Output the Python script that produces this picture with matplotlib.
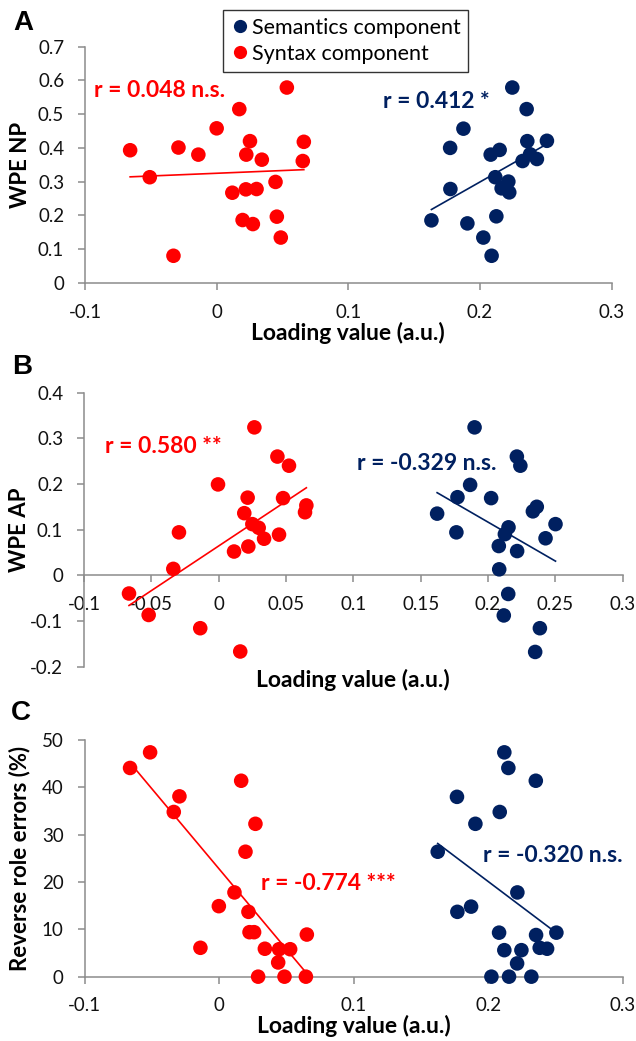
import numpy as np
import matplotlib
matplotlib.use("Agg")
import matplotlib.pyplot as plt
from matplotlib.lines import Line2D

# ---------------- data ----------------
# Panel A: WPE NP
a_syn_x = [-0.0657, -0.0508, -0.0328, -0.0290, -0.0139, 0.0000, 0.0119, 0.0172, 0.0197, 0.0222, 0.0225,
           0.0253, 0.0275, 0.0303, 0.0343, 0.0447, 0.0457, 0.0487, 0.0533, 0.0654, 0.0662]
a_syn_y = [0.393, 0.313, 0.080, 0.401, 0.380, 0.458, 0.267, 0.515, 0.186, 0.277, 0.380,
           0.420, 0.174, 0.278, 0.365, 0.299, 0.196, 0.134, 0.579, 0.361, 0.418]
a_sem_x = [0.2245, 0.2354, 0.1874, 0.1773, 0.2359, 0.2508, 0.2081, 0.2149, 0.2323, 0.2432, 0.2380,
           0.2116, 0.2215, 0.2164, 0.2222, 0.1775, 0.1631, 0.1904, 0.2124, 0.2025, 0.2088]
a_sem_y = [0.579, 0.515, 0.457, 0.400, 0.420, 0.421, 0.380, 0.394, 0.361, 0.367, 0.381,
           0.313, 0.300, 0.280, 0.268, 0.278, 0.185, 0.176, 0.197, 0.134, 0.080]

# Panel B: WPE AP
b_syn_x = [0.0265, 0.0436, 0.0522, -0.0005, 0.0215, 0.0478, 0.0651, 0.0641, 0.0190, 0.0250, 0.0297,
           -0.0295, 0.0448, 0.0337, 0.0220, 0.0114, -0.0337, -0.0666, -0.0520, -0.0137, 0.0160]
b_syn_y = [0.324, 0.260, 0.240, 0.199, 0.170, 0.169, 0.153, 0.138, 0.136, 0.112, 0.104,
           0.094, 0.089, 0.080, 0.063, 0.052, 0.014, -0.040, -0.087, -0.116, -0.167]
b_sem_x = [0.1900, 0.2214, 0.2240, 0.1867, 0.1773, 0.2023, 0.2362, 0.2333, 0.1622, 0.2501, 0.2152,
           0.2125, 0.1765, 0.2427, 0.2080, 0.2216, 0.2083, 0.2150, 0.2117, 0.2385, 0.2350]
b_sem_y = [0.324, 0.260, 0.240, 0.198, 0.171, 0.169, 0.150, 0.140, 0.135, 0.112, 0.105,
           0.090, 0.094, 0.081, 0.064, 0.053, 0.013, -0.041, -0.088, -0.116, -0.168]

# Panel C: reverse role errors (%)
c_syn_x = [-0.0513, -0.0662, 0.0164, -0.0295, -0.0337, 0.0270, 0.0196, 0.0114, -0.0002, 0.0218, 0.0226,
           0.0260, 0.0652, -0.0139, 0.0340, 0.0446, 0.0528, 0.0439, 0.0290, 0.0486, 0.0645]
c_syn_y = [47.4, 44.1, 41.4, 38.1, 34.8, 32.3, 26.4, 17.8, 14.9, 13.7, 9.4,
           9.4, 8.9, 6.1, 5.9, 5.8, 5.8, 3.0, 0.0, 0.0, 0.0]
c_sem_x = [0.2120, 0.2150, 0.2354, 0.1768, 0.2086, 0.1905, 0.1625, 0.2217, 0.1873, 0.1771, 0.2081,
           0.2356, 0.2507, 0.2120, 0.2247, 0.2383, 0.2438, 0.2215, 0.2024, 0.2155, 0.2321]
c_sem_y = [47.4, 44.1, 41.4, 38.0, 34.8, 32.3, 26.4, 17.8, 14.8, 13.7, 9.3,
           8.8, 9.3, 5.6, 5.6, 6.1, 5.9, 2.8, 0.0, 0.0, 0.0]

r_labels_syn = ["r = 0.048 n.s.", "r = 0.580 **", "r = -0.774 ***"]
r_labels_sem = ["r = 0.412 *", "r = -0.329 n.s.", "r = -0.320 n.s."]
panel_letters = ["A", "B", "C"]
y_titles = ["WPE NP", "WPE AP", "Reverse role errors (%)"]
x_title = "Loading value (a.u.)"
legend_names = ["Semantics component", "Syntax component"]

a_xticks = [-0.1, 0, 0.1, 0.2, 0.3]
a_xticklabels = ["-0.1", "0", "0.1", "0.2", "0.3"]
a_yticks = [0, 0.1, 0.2, 0.3, 0.4, 0.5, 0.6, 0.7]
a_yticklabels = ["0", "0.1", "0.2", "0.3", "0.4", "0.5", "0.6", "0.7"]
b_xticks = [-0.1, -0.05, 0, 0.05, 0.1, 0.15, 0.2, 0.25, 0.3]
b_xticklabels = ["-0.1", "-0.05", "0", "0.05", "0.1", "0.15", "0.2", "0.25", "0.3"]
b_yticks = [-0.2, -0.1, 0, 0.1, 0.2, 0.3, 0.4]
b_yticklabels = ["-0.2", "-0.1", "0", "0.1", "0.2", "0.3", "0.4"]
c_xticks = [-0.1, 0, 0.1, 0.2, 0.3]
c_xticklabels = ["-0.1", "0", "0.1", "0.2", "0.3"]
c_yticks = [0, 10, 20, 30, 40, 50]
c_yticklabels = ["0", "10", "20", "30", "40", "50"]

# ---------------- style ----------------
RED = "#FF0000"
NAVY = "#002060"
GRAY = "#8C8C8C"
plt.rcParams["font.family"] = ["Lato", "DejaVu Sans"]

fig_w, fig_h = 636.0, 1041.0
fig = plt.figure(figsize=(6.36, 10.41), dpi=100)

axes_rects = [
    [0.1336, 0.7284, 0.8282, 0.2267],
    [0.1321, 0.3597, 0.8470, 0.2631],
    [0.1330, 0.0618, 0.8461, 0.2273],
]

panels = [
    dict(sx=a_syn_x, sy=a_syn_y, bx=a_sem_x, by=a_sem_y, ylim=(0, 0.7),
         xt=a_xticks, xtl=a_xticklabels, yt=a_yticks, ytl=a_yticklabels,
         syn_txt=(-0.0934, 0.570), sem_txt=(0.126, 0.537), xlab_px=333),
    dict(sx=b_syn_x, sy=b_syn_y, bx=b_sem_x, by=b_sem_y, ylim=(-0.2, 0.4),
         xt=b_xticks, xtl=b_xticklabels, yt=b_yticks, ytl=b_yticklabels,
         syn_txt=(-0.0845, 0.282), sem_txt=(0.103, 0.244), xlab_px=680),
    dict(sx=c_syn_x, sy=c_syn_y, bx=c_sem_x, by=c_sem_y, ylim=(0, 50),
         xt=c_xticks, xtl=c_xticklabels, yt=c_yticks, ytl=c_yticklabels,
         syn_txt=(0.0313, 19.7), sem_txt=(0.196, 25.7), xlab_px=1026),
]
letter_pos = [(23, 23), (22, 367), (21, 713)]
ylab_x_px = 20

for i, (rect, p) in enumerate(zip(axes_rects, panels)):
    ax = fig.add_axes(rect)
    ax.set_xlim(-0.1, 0.3)
    ax.set_ylim(*p["ylim"])
    for sx, sy, col, txt, tpos in [(p["sx"], p["sy"], RED, r_labels_syn[i], p["syn_txt"]),
                                   (p["bx"], p["by"], NAVY, r_labels_sem[i], p["sem_txt"])]:
        ax.scatter(sx, sy, s=110, color=col, edgecolors="none", zorder=3, clip_on=False)
        xs = np.array(sx); ys = np.array(sy)
        m, c = np.polyfit(xs, ys, 1)
        xl = np.array([xs.min(), xs.max()])
        ax.plot(xl, m * xl + c, color=col, lw=1.2, zorder=2)
        ax.text(tpos[0], tpos[1], txt, color=col, fontsize=16.5, fontweight="bold",
                ha="left", va="center")
    for s in ["top", "right"]:
        ax.spines[s].set_visible(False)
    for s in ["left", "bottom"]:
        ax.spines[s].set_color(GRAY)
        ax.spines[s].set_linewidth(1.1)
    if i == 1:
        ax.spines["bottom"].set_position(("data", 0))
    ax.set_xticks(p["xt"])
    ax.set_xticklabels(p["xtl"])
    ax.set_yticks(p["yt"])
    ax.set_yticklabels(p["ytl"])
    ax.tick_params(axis="both", direction="out", length=5, width=1.1, color=GRAY,
                   labelsize=13.5, labelcolor="#111111")
    ax.tick_params(axis="x", pad=10)
    ax.tick_params(axis="y", pad=10)

    # axis titles
    ax.set_ylabel(y_titles[i], fontsize=16, fontweight="bold")
    ax.yaxis.label.set_va("center")
    left_px = rect[0] * fig_w
    ax.yaxis.set_label_coords((ylab_x_px - left_px) / (rect[2] * fig_w), 0.5)
    ax.set_xlabel(x_title, fontsize=16.5, fontweight="bold")
    ax.xaxis.label.set_va("center")
    bottom_px = (1 - rect[1]) * fig_h
    ax.xaxis.set_label_coords(0.5, -(p["xlab_px"] - bottom_px) / (rect[3] * fig_h))

    fig.text(letter_pos[i][0] / fig_w, 1 - letter_pos[i][1] / fig_h, panel_letters[i],
             fontsize=20, fontweight="bold", family="Liberation Sans", ha="center", va="center")

handles = [Line2D([], [], marker="o", linestyle="none", markersize=9.5, markerfacecolor=NAVY,
                  markeredgecolor="none"),
           Line2D([], [], marker="o", linestyle="none", markersize=9.5, markerfacecolor=RED,
                  markeredgecolor="none")]
leg = fig.legend(handles, legend_names, loc="upper left",
                 bbox_to_anchor=(223 / fig_w, 1 - 10 / fig_h), fontsize=15.5, frameon=True,
                 fancybox=False, edgecolor="black", handletextpad=0.1, handlelength=0.9,
                 borderpad=0.35, labelspacing=0.3, borderaxespad=0)
leg.get_frame().set_linewidth(1.0)

fig.savefig("out.png", dpi=100)
